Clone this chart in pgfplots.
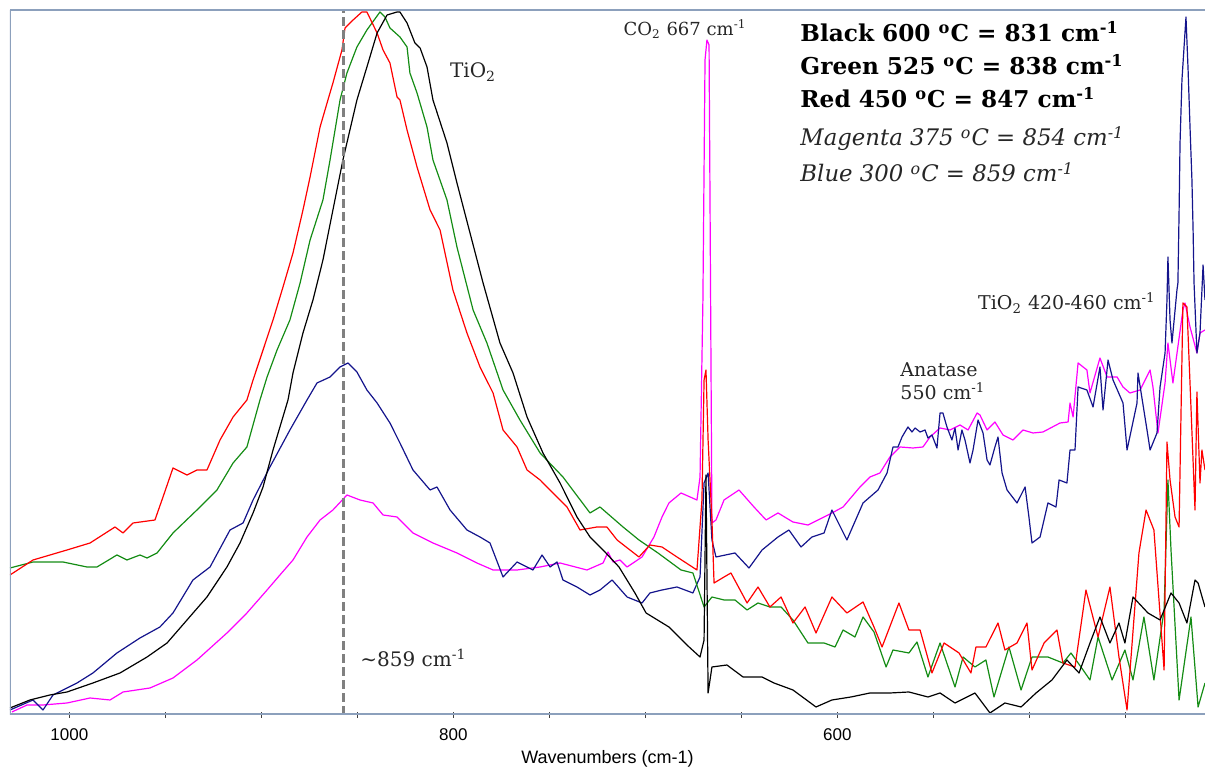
\documentclass[border=0pt]{standalone}
\usepackage{fontspec}
\setmainfont{Liberation Sans}
\newfontfamily\ann{DejaVu Serif}
\usepackage{pgfplots}
\pgfplotsset{compat=1.18}
\definecolor{frame}{RGB}{140,160,188}
\definecolor{spred}{RGB}{255,0,0}
\definecolor{spgreen}{RGB}{20,140,20}
\definecolor{spblue}{RGB}{20,20,140}
\definecolor{spmag}{RGB}{255,0,255}
\definecolor{markgray}{RGB}{128,128,128}

\begin{document}
\begin{tikzpicture}
\useasboundingbox (-5pt,-29.5pt) rectangle (597.5pt,357.5pt);
\begin{axis}[
  at={(0,0)}, anchor=south west,
  scale only axis,
  width=597.5pt, height=352.5pt,
  x dir=reverse,
  xmin=408.5, xmax=1030.9,
  ymin=0, ymax=705,
  ytick=\empty,
  xtick={600,800,1000},
  minor xtick={450,500,...,1000},
  xtick pos=left,
  tick align=center,
  major tick length=3pt, minor tick length=3pt,
  tick style={black!75, line width=0.6pt},
  axis line style={draw=none},
  /pgf/number format/assume math mode=true,
  /pgf/number format/1000 sep={},
  xticklabel style={font=\fontsize{8.5}{10}\selectfont, yshift=-2pt},
  xlabel={Wavenumbers (cm-1)},
  xlabel style={font=\fontsize{9}{11}\selectfont, yshift=2pt},
  every axis plot/.append style={line width=0.6pt, line join=round},
]
\addplot[spmag] coordinates {
(1029.9,3)(1022.0,10)(1013.7,10)(1001.2,12)(989.2,17)(978.8,15)(972.0,23)(958.0,27)(946.0,37)(933.5,55)(917.9,82)(907.5,102)(897.0,125)(890.3,140)(883.5,155)(876.2,178)(869.4,195)(862.7,205)(855.4,220)(848.6,215)(841.8,212)(836.6,200)(829.3,198)(821.0,182)(810.6,172)(798.1,162)(787.7,152)(779.3,145)(766.8,145)(754.8,148)(744.4,152)(730.4,145)(722.0,152)(719.4,163)(716.8,153)(713.2,155)(709.5,148)(701.7,158)(695.5,178)(691.3,198)(687.7,212)(681.4,222)(673.1,215)(671.5,238)(670.0,415)(668.9,655)(667.9,675)(666.8,670)(666.3,515)(665.3,192)(663.2,195)(659.0,215)(651.2,225)(643.4,208)(637.1,195)(630.9,202)(623.1,193)(615.3,190)(602.8,202)(597.0,208)(588.2,228)(583.0,238)(577.8,242)(572.6,258)(567.3,268)(560.6,267)(555.4,268)(551.7,278)(546.5,287)(541.3,285)(536.1,290)(531.9,285)(527.2,302)(525.7,300)(522.0,285)(517.9,293)(513.7,280)(508.5,275)(503.3,285)(498.1,282)(492.9,283)(484.0,292)(479.8,293)(478.8,312)(477.2,298)(474.6,352)(470.0,345)(468.4,322)(463.2,357)(459.5,338)(454.3,338)(451.2,328)(447.6,322)(442.3,325)(437.1,345)(435.6,328)(433.0,282)(429.3,332)(427.8,372)(425.2,332)(420.0,405)(418.9,412)(416.3,388)(412.7,362)(411.1,382)(408.5,385)
};
\addplot[spblue] coordinates {
(1030.9,5)(1018.9,15)(1013.7,5)(1008.5,20)(996.0,32)(987.7,42)(975.2,62)(963.2,77)(952.8,88)(946.0,102)(935.6,135)(926.7,148)(916.3,185)(909.5,192)(904.3,215)(895.5,248)(885.1,285)(876.2,315)(871.0,332)(864.2,338)(859.0,348)(854.8,352)(850.2,343)(845.0,325)(839.7,312)(833.0,292)(827.8,272)(821.0,245)(812.1,225)(808.5,228)(801.7,205)(792.9,185)(786.1,178)(780.9,172)(774.1,138)(766.8,153)(758.5,145)(753.8,160)(749.6,148)(746.0,153)(742.9,135)(735.6,128)(728.8,120)(723.6,125)(717.3,135)(709.5,118)(701.7,112)(697.6,122)(691.3,125)(683.5,128)(675.2,122)(671.5,138)(669.4,232)(667.3,242)(665.3,175)(663.2,158)(653.3,162)(646.0,147)(639.2,165)(630.9,178)(625.2,185)(618.9,168)(613.2,178)(606.9,182)(602.8,205)(595.0,175)(586.6,212)(578.8,225)(574.1,242)(571.0,268)(568.4,268)(566.3,278)(563.2,288)(561.1,283)(559.5,287)(556.9,283)(554.3,285)(552.8,277)(550.7,280)(548.1,267)(546.5,302)(545.0,302)(542.9,288)(540.3,275)(538.7,287)(537.1,265)(535.1,285)(533.5,275)(530.9,252)(529.3,265)(526.7,295)(524.1,282)(522.0,255)(520.5,250)(517.9,268)(516.3,278)(514.2,242)(511.6,225)(506.4,212)(502.2,228)(500.2,198)(498.6,172)(494.4,178)(490.3,212)(486.1,208)(484.5,235)(480.4,232)(478.8,265)(476.2,265)(474.6,328)(470.0,325)(466.8,308)(463.2,348)(461.6,305)(459.0,355)(456.4,335)(451.2,312)(449.1,265)(443.9,312)(443.4,342)(438.7,285)(437.1,265)(433.5,282)(431.9,328)(429.3,362)(428.3,415)(427.8,458)(426.7,395)(425.7,372)(423.1,425)(422.6,432)(422.0,502)(421.5,572)(420.5,635)(418.4,698)(417.3,645)(416.3,588)(415.3,535)(414.7,485)(414.2,432)(412.7,362)(411.1,382)(409.5,450)(408.5,415)
};
\addplot[spgreen] coordinates {
(1030.9,147)(1018.9,153)(1003.3,153)(990.8,148)(985.6,148)(975.2,160)(970.0,155)(963.2,160)(959.5,157)(954.3,162)(946.0,182)(931.9,208)(923.1,225)(914.7,252)(907.5,268)(900.7,315)(897.0,338)(891.8,365)(885.1,395)(879.8,432)(874.6,475)(867.9,515)(864.2,555)(859.0,615)(855.4,642)(850.2,668)(845.0,685)(838.2,703)(835.6,698)(833.0,687)(827.8,678)(824.1,668)(822.6,642)(818.9,622)(813.7,588)(810.6,555)(803.3,515)(798.1,468)(789.7,405)(782.5,372)(774.1,325)(765.3,295)(754.8,262)(742.9,238)(728.8,202)(723.6,208)(711.6,188)(703.3,175)(693.4,162)(681.4,145)(675.2,142)(669.4,108)(665.3,118)(659.0,115)(653.3,115)(647.0,105)(641.3,112)(635.1,108)(629.3,108)(623.1,95)(615.3,72)(606.9,72)(601.2,68)(597.0,85)(590.8,78)(586.6,98)(580.9,83)(574.6,48)(571.0,65)(562.7,62)(558.5,73)(552.8,38)(546.5,72)(538.7,28)(534.5,58)(528.3,48)(522.6,55)(518.4,18)(510.6,68)(504.3,25)(498.6,58)(490.3,58)(482.5,52)(478.3,62)(472.0,45)(468.4,35)(464.2,78)(456.9,35)(450.2,65)(446.0,35)(440.3,98)(435.1,35)(429.8,105)(427.8,235)(426.2,165)(422.0,15)(415.8,98)(412.1,8)(408.5,32)
};
\addplot[spred] coordinates {
(1030.9,140)(1018.9,155)(1001.2,165)(989.2,172)(976.2,188)(972.0,182)(966.8,192)(955.4,195)(951.2,218)(946.0,247)(938.7,240)(933.5,245)(928.3,245)(921.5,275)(914.7,298)(907.5,315)(904.3,335)(899.1,365)(893.9,395)(888.7,428)(883.5,462)(878.3,505)(874.6,538)(869.4,588)(865.3,615)(862.7,632)(858.0,665)(856.4,687)(852.2,695)(847.6,703)(845.0,703)(839.7,682)(836.6,665)(833.0,652)(829.3,618)(827.8,615)(824.1,585)(818.9,548)(812.1,505)(806.9,485)(800.2,425)(792.9,382)(786.1,348)(779.3,322)(774.1,285)(766.8,268)(761.6,245)(754.8,235)(748.1,222)(740.8,208)(734.0,185)(725.2,188)(720.0,188)(714.7,175)(703.3,158)(697.6,170)(691.3,168)(683.5,158)(673.1,145)(670.5,215)(669.4,335)(668.4,345)(667.3,275)(665.3,195)(664.2,132)(659.0,138)(655.4,142)(647.0,112)(641.3,128)(635.1,108)(629.3,118)(623.1,92)(616.8,108)(611.1,82)(602.8,118)(595.0,102)(586.6,113)(580.9,88)(576.7,68)(567.9,112)(562.7,85)(556.9,85)(550.7,42)(544.4,72)(536.6,62)(530.4,42)(527.8,68)(522.6,68)(516.3,92)(512.7,65)(506.4,72)(501.2,92)(498.6,45)(492.3,72)(485.6,85)(482.5,52)(476.2,48)(470.5,125)(464.2,78)(458.0,128)(453.3,58)(449.1,5)(442.9,162)(439.2,205)(435.1,185)(429.8,45)(428.3,273)(426.7,235)(424.1,198)(422.0,188)(420.0,412)(417.9,408)(416.3,332)(413.7,205)(412.7,323)(411.1,232)(410.1,265)(408.5,245)
};
\addplot[black] coordinates {
(1030.9,7)(1020.5,15)(1010.1,20)(1001.2,23)(987.7,32)(973.6,42)(959.5,58)(949.1,72)(938.7,95)(928.3,118)(917.9,148)(911.1,172)(904.3,202)(899.1,228)(893.9,265)(886.1,315)(883.5,342)(878.3,382)(873.1,415)(867.9,455)(862.7,505)(857.5,555)(850.2,615)(845.0,648)(839.7,682)(834.5,700)(829.3,703)(827.8,703)(824.1,692)(820.0,672)(817.3,667)(813.7,648)(810.6,615)(803.3,572)(798.1,532)(791.3,482)(784.5,432)(775.7,372)(768.9,342)(761.6,298)(753.3,262)(744.4,232)(735.6,198)(728.8,178)(722.0,165)(713.7,148)(705.4,122)(699.6,102)(687.7,88)(677.2,68)(671.5,58)(669.4,75)(668.4,240)(667.3,22)(665.3,48)(657.5,50)(649.1,38)(639.2,38)(633.0,32)(623.1,25)(611.1,8)(602.8,15)(592.9,18)(583.0,22)(572.6,22)(562.7,23)(552.8,18)(546.5,22)(538.7,12)(528.3,22)(520.5,2)(512.7,12)(504.3,8)(496.5,22)(488.2,35)(480.4,55)(474.1,42)(468.4,72)(463.2,98)(458.0,72)(453.3,92)(450.2,72)(446.0,118)(438.2,102)(431.9,95)(426.2,122)(422.0,112)(417.9,92)(413.7,135)(412.1,132)(408.5,108)
};
% marker line at ~859
\draw[markgray, line width=1.6pt, dash pattern=on 4.5pt off 2pt] (axis cs:857,0) -- (axis cs:857,705);
% frame
\draw[frame, line width=1.6pt] (rel axis cs:0,0) -- (rel axis cs:1,0);
\draw[frame, line width=0.8pt] (rel axis cs:0,1) -- (rel axis cs:1,1);
\draw[frame, line width=1pt] (rel axis cs:0,0) -- (rel axis cs:0,1);
% annotations
\begin{scope}[every node/.style={inner sep=0pt, text=black!85}]
\node[anchor=center, font=\ann\fontsize{10}{12}\selectfont] at (axis cs:789.7,643) {TiO\textsubscript{2}};
\node[anchor=center, font=\ann\fontsize{9}{11}\selectfont] at (axis cs:679.3,686) {CO\textsubscript{2} 667 cm\textsuperscript{-1}};
\node[anchor=center, font=\ann\fontsize{9.5}{11}\selectfont] at (axis cs:480.4,412) {TiO\textsubscript{2} 420-460 cm\textsuperscript{-1}};
\node[anchor=base west, font=\ann\fontsize{9.5}{11}\selectfont] at (axis cs:567.3,338) {Anatase};
\node[anchor=base west, font=\ann\fontsize{9.5}{11}\selectfont] at (axis cs:567.3,315) {550 cm\textsuperscript{-1}};
\node[anchor=base west, font=\ann\fontsize{10}{12}\selectfont] at (axis cs:848.6,48) {\symbol{126}859 cm\textsuperscript{-1}};
\node[anchor=base west, text=black, font=\ann\bfseries\fontsize{11.6}{14}\selectfont] at (axis cs:619.4,673) {Black 600 \textsuperscript{o}C = 831 cm\textsuperscript{-1}};
\node[anchor=base west, text=black, font=\ann\bfseries\fontsize{11.6}{14}\selectfont] at (axis cs:619.4,640) {Green 525 \textsuperscript{o}C = 838 cm\textsuperscript{-1}};
\node[anchor=base west, text=black, font=\ann\bfseries\fontsize{11.6}{14}\selectfont] at (axis cs:619.4,607) {Red 450 \textsuperscript{o}C = 847 cm\textsuperscript{-1}};
\node[anchor=base west, font=\ann\itshape\fontsize{11.4}{14}\selectfont] at (axis cs:619.4,569) {Magenta 375 \textsuperscript{o}C = 854 cm\textsuperscript{-1}};
\node[anchor=base west, font=\ann\itshape\fontsize{11.4}{14}\selectfont] at (axis cs:619.4,533) {Blue 300 \textsuperscript{o}C = 859 cm\textsuperscript{-1}};
\end{scope}
\end{axis}
\end{tikzpicture}
\end{document}
